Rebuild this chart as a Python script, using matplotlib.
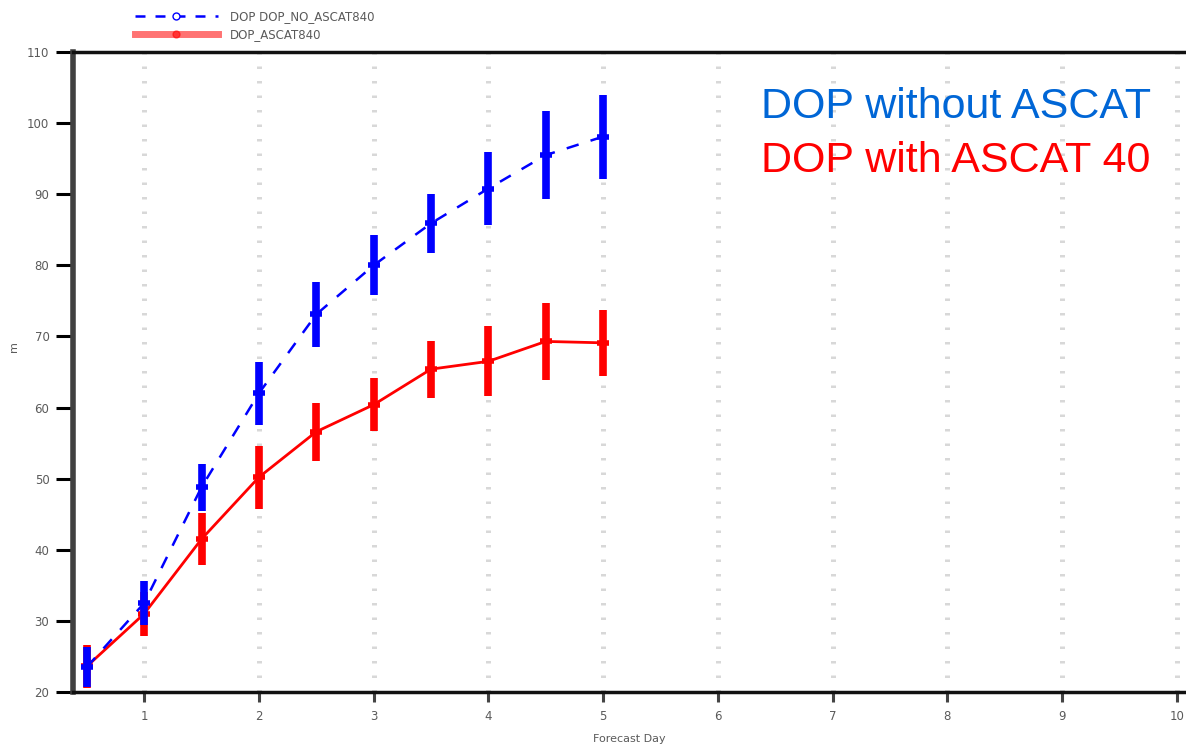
import matplotlib
matplotlib.use("Agg")
import matplotlib.pyplot as plt
from matplotlib.lines import Line2D

# Forecast lead times (days) and errors (m) with spread
days = [0.5, 1.0, 1.5, 2.0, 2.5, 3.0, 3.5, 4.0, 4.5, 5.0]

no_ascat_mean = [23.5, 32.5, 48.8, 62.0, 73.1, 80.0, 85.9, 90.8, 95.5, 98.1]
no_ascat_err = [2.8, 3.1, 3.3, 4.4, 4.6, 4.2, 4.2, 5.1, 6.2, 5.9]

ascat_mean = [23.6, 31.0, 41.5, 50.2, 56.6, 60.4, 65.4, 66.5, 69.3, 69.1]
ascat_err = [3.0, 3.1, 3.7, 4.4, 4.1, 3.7, 4.0, 4.9, 5.4, 4.6]

x_ticks = [1, 2, 3, 4, 5, 6, 7, 8, 9, 10]
y_ticks = [20, 30, 40, 50, 60, 70, 80, 90, 100, 110]

legend_labels = ["DOP DOP_NO_ASCAT840", "DOP_ASCAT840"]
note_labels = ["DOP without ASCAT", "DOP with ASCAT 40"]

BLUE = "#0000ff"
RED = "#ff0000"
GREY_TXT = "#5a5a5a"

W, H = 1186, 744
fig = plt.figure(figsize=(W / 100, H / 100), dpi=100)
ax = fig.add_axes([73 / W, 52 / H, (W - 73) / W, (692 - 52) / H])

# vertical dotted guides at each day
for d in x_ticks:
    ax.axvline(d, color="#d8d8d8", lw=3.6, ls=(0, (0.5, 2.4)),
               solid_capstyle="butt", dash_capstyle="butt", zorder=0)

ax.errorbar(days, no_ascat_mean, yerr=no_ascat_err, color=BLUE, lw=1.8,
            ls=(0, (5, 5)), elinewidth=5.5, capsize=0, marker="_", ms=9,
            mew=4, mfc=BLUE, mec=BLUE, zorder=3, clip_on=True)
ax.errorbar(days, ascat_mean, yerr=ascat_err, color=RED, lw=2.0, ls="-",
            elinewidth=5.5, capsize=0, marker="_", ms=9, mew=4,
            mfc=RED, mec=RED, zorder=2, clip_on=True)

ax.set_xlim(0.38, 10.08)
ax.set_ylim(20, 110)
ax.set_xticks(x_ticks)
ax.set_yticks(y_ticks)
ax.tick_params(axis="y", direction="out", length=12, width=2.2, color="black",
               labelsize=8.5, labelcolor=GREY_TXT, pad=5)
ax.tick_params(axis="x", direction="out", length=7, width=2.2, color="#444444",
               labelsize=8.5, labelcolor=GREY_TXT, pad=6)

ax.spines["right"].set_visible(False)
ax.spines["left"].set_color("#404040")
ax.spines["left"].set_linewidth(4)
ax.spines["top"].set_color("#111111")
ax.spines["top"].set_linewidth(2.5)
ax.spines["bottom"].set_color("#111111")
ax.spines["bottom"].set_linewidth(2.5)

ax.set_xlabel("Forecast Day", fontsize=8, color=GREY_TXT)
ax.xaxis.set_label_coords(0.5, -0.066)
fig.text(14 / W, 1 - 347 / H, "m", fontsize=8, color=GREY_TXT,
         rotation=90, ha="center", va="center")

# legend above the frame
handles = [
    Line2D([], [], color=BLUE, lw=1.8, ls=(0, (4, 4)), marker="o", ms=5,
           mfc="white", mec=BLUE),
    Line2D([], [], color=RED, lw=5, alpha=0.55, marker="o", ms=5,
           mfc=RED, mec=RED),
]
fig.legend(handles, legend_labels, loc="upper left",
           bbox_to_anchor=(128 / W, 1 - 3 / H), frameon=False, fontsize=8.5,
           handlelength=7.0, handletextpad=1.0, labelspacing=0.4,
           labelcolor=GREY_TXT, borderaxespad=0.2)

fig.text(761 / W, 1 - 118 / H, note_labels[0], color="#0066d6",
         fontsize=31, family="Liberation Sans", ha="left", va="baseline")
fig.text(761 / W, 1 - 172 / H, note_labels[1], color=RED,
         fontsize=31, family="Liberation Sans", ha="left", va="baseline")

fig.savefig("out.png", dpi=100, facecolor="white")
